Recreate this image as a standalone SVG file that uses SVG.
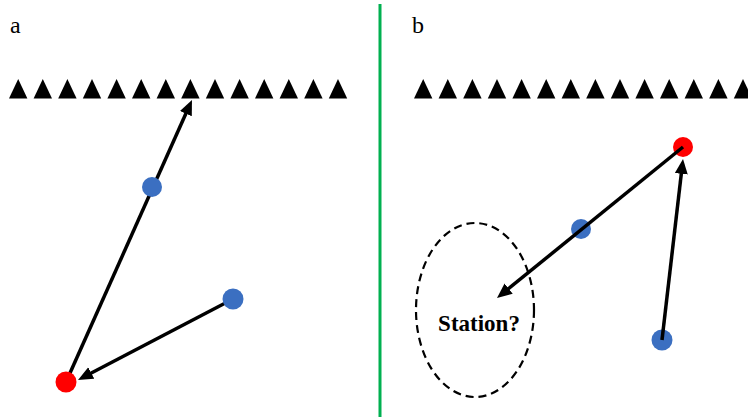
<svg xmlns="http://www.w3.org/2000/svg" xmlns:xlink="http://www.w3.org/1999/xlink" width="748" height="417" viewBox="0 0 748 417">
<style>
.lbl{font-family:"Liberation Serif",serif;font-size:24px;fill:#000}
.st{font-family:"Liberation Serif",serif;font-size:23px;font-weight:bold;fill:#000}
.arr{stroke:#000;stroke-width:3.5;fill:none;marker-end:url(#ah)}
.red{fill:#FF0000}
.blue{fill:#3B6FC1}
.tri{fill:#000}
</style>
<defs>
<marker id="ah" markerUnits="userSpaceOnUse" markerWidth="16" markerHeight="14" refX="7" refY="6.5" orient="auto">
<path d="M0,0 L15,6.5 L0,13 z" fill="#000"/>
</marker>
<polygon id="tri" class="tri" points="0,19.5 9.2,0 18.4,19.5"/>
</defs>
<rect width="748" height="417" fill="#fff"/>
<line x1="380" y1="4" x2="380" y2="417" stroke="#00B050" stroke-width="3"/>
<text class="lbl" x="10" y="33">a</text>
<text class="lbl" x="412" y="33">b</text>
<g id="stations-a">
<use xlink:href="#tri" x="9" y="79"/><use xlink:href="#tri" x="33.6" y="79"/><use xlink:href="#tri" x="58.2" y="79"/><use xlink:href="#tri" x="82.8" y="79"/><use xlink:href="#tri" x="107.4" y="79"/><use xlink:href="#tri" x="132" y="79"/><use xlink:href="#tri" x="156.6" y="79"/><use xlink:href="#tri" x="181.2" y="79"/><use xlink:href="#tri" x="205.8" y="79"/><use xlink:href="#tri" x="230.4" y="79"/><use xlink:href="#tri" x="255" y="79"/><use xlink:href="#tri" x="279.6" y="79"/><use xlink:href="#tri" x="304.2" y="79"/><use xlink:href="#tri" x="328.8" y="79"/>
</g>
<g id="stations-b">
<use xlink:href="#tri" x="414" y="79"/><use xlink:href="#tri" x="438.6" y="79"/><use xlink:href="#tri" x="463.2" y="79"/><use xlink:href="#tri" x="487.8" y="79"/><use xlink:href="#tri" x="512.4" y="79"/><use xlink:href="#tri" x="537" y="79"/><use xlink:href="#tri" x="561.6" y="79"/><use xlink:href="#tri" x="586.2" y="79"/><use xlink:href="#tri" x="610.8" y="79"/><use xlink:href="#tri" x="635.4" y="79"/><use xlink:href="#tri" x="660" y="79"/><use xlink:href="#tri" x="684.6" y="79"/><use xlink:href="#tri" x="709.2" y="79"/><use xlink:href="#tri" x="733.8" y="79"/>
</g>
<g id="connectors-a">
<line class="arr" x1="66" y1="382" x2="188.7" y2="107.3"/>
<line class="arr" x1="233" y1="299" x2="85.1" y2="376.3"/>
</g>
<g id="a-blue1"><circle class="blue" cx="152" cy="187" r="10"/></g>
<g id="a-blue2"><circle class="blue" cx="233" cy="299" r="10.5"/></g>
<g id="a-red"><circle class="red" cx="66" cy="382" r="10.5"/></g>
<g id="b-station"><ellipse cx="475" cy="310" rx="59" ry="87" fill="none" stroke="#000" stroke-width="2.2" stroke-dasharray="8,5"/>
<text class="st" x="479" y="331" text-anchor="middle">Station?</text></g>
<g id="b-red"><circle class="red" cx="683" cy="147" r="10"/></g>
<g id="b-blue1"><circle class="blue" cx="581" cy="229" r="10"/></g>
<g id="b-blue2"><circle class="blue" cx="662" cy="340" r="10.5"/></g>
<g id="connectors-b">
<line class="arr" x1="683" y1="147" x2="503.2" y2="293"/>
<line class="arr" x1="662" y1="340" x2="682.1" y2="166.9"/>
</g>
</svg>
